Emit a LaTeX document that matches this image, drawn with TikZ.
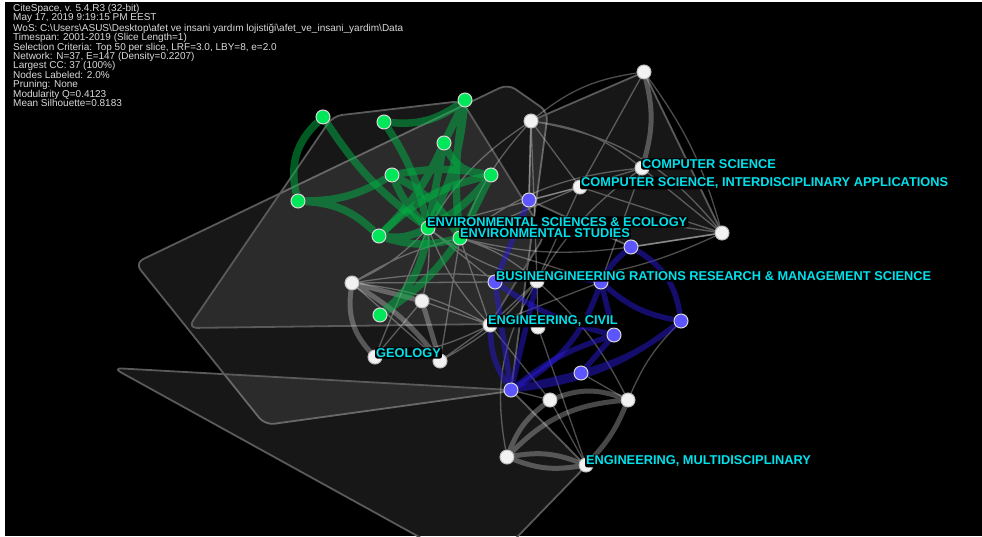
\documentclass[tikz,border=0pt]{standalone}
\usepackage{fontspec}
\setmainfont{Liberation Sans}
\setsansfont{Liberation Sans}
\usetikzlibrary{backgrounds}
\definecolor{cslabel}{HTML}{00E1EC}
\definecolor{cgreen}{HTML}{00E85A}
\definecolor{cblue}{HTML}{5D55FF}
\definecolor{cgreenline}{HTML}{00B445}
\definecolor{cblueline}{HTML}{2A1AD8}
\definecolor{chull}{HTML}{5A5A5A}
\definecolor{cinfo}{HTML}{DADADA}

\tikzset{
  hull/.style={draw=chull, line width=1.8pt, fill=white, fill opacity=0.09, rounded corners=9pt},
  wedge/.style={draw=white, opacity=0.3, line width=1.3pt},
  wthick/.style={draw=white, opacity=0.28, line width=5pt},
  gedge/.style={draw=cgreenline, opacity=0.5, line width=7.5pt},
  bedge/.style={draw=cblueline, opacity=0.5, line width=5.5pt},
  wnode/.style={circle, minimum size=14pt, inner sep=0pt, fill=white!95!black, draw=white!75!black, line width=1pt},
  gnode/.style={wnode, fill=cgreen, draw=white!85!black},
  bnode/.style={wnode, fill=cblue, draw=white!85!black},
  lbl/.style={anchor=west, text=cslabel, fill=black, inner sep=1pt, rounded corners=2pt, font=\fontsize{12.8}{13}\selectfont\bfseries},
  info/.style={anchor=north west, text=cinfo, align=left, inner sep=0pt, font=\fontsize{10}{9.4}\selectfont}
}

\begin{document}
\begin{tikzpicture}[x=1pt,y=-1pt]
\useasboundingbox (0,0) rectangle (982,536);

\node[info] (meta) at (13,4) {CiteSpace, v. 5.4.R3 (32-bit)\\
May 17, 2019 9:19:15 PM EEST\\
WoS: C:\textbackslash Users\textbackslash ASUS\textbackslash Desktop\textbackslash afet ve insani yardım lojistiği\textbackslash afet\_ve\_insani\_yardim\textbackslash Data\\
Timespan: 2001-2019 (Slice Length=1)\\
Selection Criteria: Top 50 per slice, LRF=3.0, LBY=8, e=2.0\\
Network: N=37, E=147 (Density=0.2207)\\
Largest CC: 37 (100\%)\\
Nodes Labeled: 2.0\%\\
Pruning: None\\
Modularity Q=0.4123\\
Mean Silhouette=0.8183};

\node[gnode] (g1) at (323,117) {};
\node[gnode] (g2) at (384,122) {};
\node[gnode] (g3) at (465,100) {};
\node[gnode] (g4) at (444,143) {};
\node[gnode] (g5) at (392,175) {};
\node[gnode] (g6) at (491,175) {};
\node[gnode] (g7) at (298,201) {};
\node[gnode] (g8) at (379,236) {};
\node[gnode] (g9) at (428,228) {};
\node[gnode] (g10) at (460,238) {};
\node[gnode] (g11) at (380,315) {};

\node[wnode] (w1) at (644,72) {};
\node[wnode] (w2) at (531,121) {};
\node[wnode] (w3) at (642,168) {};
\node[wnode] (w4) at (580,187) {};
\node[wnode] (w5) at (722,233) {};
\node[wnode] (w6) at (352,283) {};
\node[wnode] (w7) at (422,301) {};
\node[wnode] (w8) at (375,357) {};
\node[wnode] (w9) at (440,361) {};
\node[wnode] (w10) at (537,281) {};
\node[wnode] (w11) at (490,325) {};
\node[wnode] (w16) at (538,327) {};
\node[wnode] (w12) at (550,400) {};
\node[wnode] (w13) at (628,400) {};
\node[wnode] (w14) at (507,457) {};
\node[wnode] (w15) at (586,465) {};

\node[bnode] (b1) at (529,200) {};
\node[bnode] (b2) at (631,247) {};
\node[bnode] (b3) at (495,282) {};
\node[bnode] (b4) at (601,282) {};
\node[bnode] (b5) at (681,321) {};
\node[bnode] (b6) at (614,335) {};
\node[bnode] (b7) at (581,373) {};
\node[bnode] (b8) at (511,390) {};

\begin{pgfonlayer}{background}
\fill[white] (0,0) rectangle (982,536);
\fill[black] (5,2) rectangle (982,536);
\begin{scope}
\clip (5,2) rectangle (982,536);
\draw[hull] (135,263) -- (508,84) -- (548,112) -- (511,391) -- (265,425) -- cycle;
\draw[hull] (188,328) -- (333,116) -- (462,101) -- (545,235) -- (490,324) -- cycle;
\draw[hull] (113,368) -- (511,390) -- (586,466) -- (490,565) -- (470,565) -- cycle;
\draw[hull] (531,121) -- (644,72) -- (722,233) -- (631,247) -- (529,200) -- cycle;
\end{scope}

\draw[wedge] (g9) to[bend left=10] (w6) (g9) to[bend left=8] (w7) (g9) -- (w8)
  (g9) to[bend right=10] (w11) (g9) to[bend right=10] (w10) (g9) -- (b3)
  (g9) to[bend left=12] (w2) (g9) -- (w4) (g10) to[bend right=8] (w6) (g10) -- (w9)
  (g10) -- (w11) (g10) to[bend left=10] (w10) (g10) -- (b4) (g10) to[bend left=10] (w2)
  (g10) -- (w4) (g10) to[bend right=10] (b2) (g10) to[bend left=15] (w3) (g10) to[bend left=10] (w5)
  (w6) -- (w9) (w6) to[bend left=10] (w11) (w6) to[bend left=8] (w10) (w6) -- (b3)
  (w7) -- (w8) (w7) -- (w11) (w8) to[bend right=10] (w11) (w9) -- (w11)
  (w9) to[bend right=10] (w10) (w11) -- (w10) (w11) -- (b4) (w16) -- (w10);
\draw[wedge] (w1) to[bend right=15] (w2) (w1) -- (w4) (w1) to[bend left=10] (w5)
  (w2) to[bend left=15] (w3) (w2) -- (w4) (w2) to[bend left=20] (w5) (w3) -- (w4)
  (w3) -- (w5) (w4) -- (w5) (w2) -- (b1) (w4) -- (b1) (w4) -- (w10)
  (w3) to[bend right=10] (w10) (w5) to[bend left=10] (w10) (w5) -- (b2) (w2) -- (w10) (w3) -- (b4);
\draw[wedge] (w12) -- (w15) (w13) -- (b7) (w12) -- (b8) (w10) to[bend left=10] (w13)
  (w11) -- (w12) (w10) to[bend right=20] (w14) (w16) -- (w15) (w13) to[bend left=10] (b5);

\draw[wthick] (w1) to[bend left=15] (w3) (w6) to[bend right=25] (w8) (w7) -- (w9) (w6) -- (w7)
  (w6) to[bend left=10] (w9);
\draw[wthick] (w12) to[bend left=20] (w13) (w12) to[bend right=15] (w14) (w13) to[bend right=20] (w14)
  (w13) to[bend left=10] (w15) (w14) to[bend left=15] (w15) (w14) to[bend right=15] (w15);

\draw[gedge] (g1) to[bend right=30] (g7) (g1) to[bend right=10] (g9) (g2) to[bend right=20] (g3)
  (g2) to[bend left=10] (g9) (g3) -- (g4) (g3) to[bend left=10] (g9) (g3) to[bend right=8] (g10);
\draw[gedge] (g4) to[bend right=30] (g6) (g4) to[bend left=10] (g8) (g4) -- (g9)
  (g5) to[bend left=10] (g6) (g5) to[bend right=10] (g9) (g5) to[bend left=15] (g10);
\draw[gedge] (g6) to[bend left=10] (g9) (g6) -- (g10) (g7) to[bend right=15] (g5)
  (g7) to[bend left=20] (g8) (g8) to[bend right=15] (g9) (g8) to[bend right=15] (g10);
\draw[gedge] (g9) to[bend left=20] (g11) (g10) to[bend left=10] (g11) (g6) to[bend right=15] (g8);

\draw[bedge] (b1) -- (b3) (b2) to[bend right=10] (b4) (b2) to[bend left=25] (b5)
  (b3) to[bend left=10] (b4) (b3) -- (b8) (b4) to[bend right=15] (b5) (b4) -- (b6);
\draw[bedge] (b5) to[bend left=15] (b8) (b6) to[bend right=10] (b8) (b7) -- (b8) (b6) -- (b7)
  (b3) to[bend right=10] (b6) (b5) to[bend left=10] (b7);
\draw[bedge] (w10) -- (b8) (w11) to[bend right=15] (b8) (b4) to[bend left=20] (b8);
\end{pgfonlayer}

\node[lbl] (lcs) at (641,164) {COMPUTER SCIENCE};
\node[lbl] (lcsi) at (580,183) {COMPUTER SCIENCE, INTERDISCIPLINARY APPLICATIONS};
\node[lbl] (lese) at (426,222) {ENVIRONMENTAL SCIENCES \& ECOLOGY};
\node[lbl] (les) at (459,233) {ENVIRONMENTAL STUDIES};
\node[lbl] (lor) at (495,276) {BUSINENGINEERING RATIONS RESEARCH \& MANAGEMENT SCIENCE};
\node[lbl] (lec) at (487,321) {ENGINEERING, CIVIL};
\node[lbl] (lgeo) at (375,353) {GEOLOGY};
\node[lbl] (lem) at (585,461) {ENGINEERING, MULTIDISCIPLINARY};
\end{tikzpicture}
\end{document}
